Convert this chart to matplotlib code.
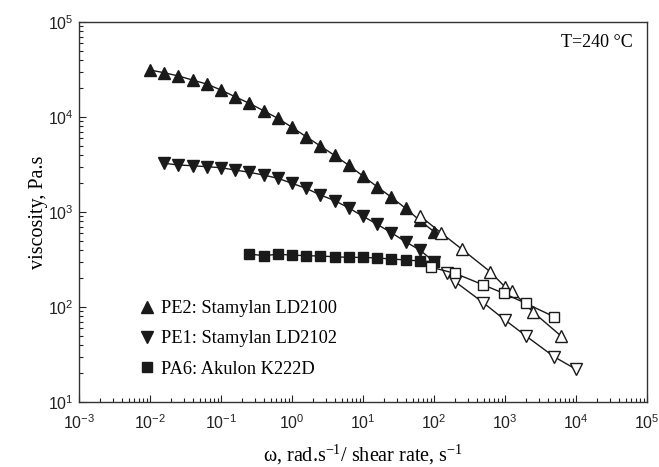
import math
import matplotlib
matplotlib.use("Agg")
import matplotlib.pyplot as plt
from matplotlib.lines import Line2D
from matplotlib.ticker import FixedLocator, FuncFormatter, NullFormatter

# ---- data ----
pe2_osc_x = [0.01, 0.0158, 0.0251, 0.0398, 0.0631, 0.1, 0.158, 0.251, 0.398, 0.631,
             1, 1.58, 2.51, 3.98, 6.31, 10, 15.8, 25.1, 39.8, 63.1, 100]
pe2_osc_y = [31260, 29240, 27040, 24490, 22230, 19230, 16330, 13930, 11640, 9680,
             7800, 6210, 4950, 3940, 3100, 2390, 1845, 1430, 1094, 815, 621]
pe2_cap_x = [63, 124, 248, 615, 990, 1255, 2455, 6080]
pe2_cap_y = [914, 608, 405, 236, 164, 147, 89.3, 49.9]

pe1_osc_x = [0.0158, 0.0251, 0.0398, 0.0631, 0.1, 0.158, 0.251, 0.398, 0.631,
             1, 1.58, 2.51, 3.98, 6.31, 10, 15.8, 25.1, 39.8, 63.1, 100]
pe1_osc_y = [3258, 3126, 3069, 2999, 2924, 2767, 2618, 2449, 2265,
             2004, 1774, 1510, 1321, 1102, 902, 743, 605, 486, 398, 300]
pe1_cap_x = [151, 198, 494, 1000, 1978, 4900, 10000]
pe1_cap_y = [226, 185, 111, 73, 49.5, 30, 22.1]

pa6_osc_x = [0.251, 0.398, 0.631, 1, 1.58, 2.51, 3.98, 6.31, 10, 15.8, 25.1, 39.8, 63.1, 100]
pa6_osc_y = [361, 347, 359, 352, 347, 344, 338, 333, 333, 328, 320, 313, 305, 300]
pa6_cap_x = [91, 198, 494, 968, 1978, 4900]
pa6_cap_y = [262, 226, 171, 139, 109, 79]

x_ticks = [1e-3, 1e-2, 1e-1, 1e0, 1e1, 1e2, 1e3, 1e4, 1e5]
y_ticks = [1e1, 1e2, 1e3, 1e4, 1e5]

labels = ["PE2: Stamylan LD2100", "PE1: Stamylan LD2102", "PA6: Akulon K222D"]
annotation = "T=240 \u00b0C"
xlabel = r"$\omega$, rad.s$^{\mathregular{-1}}$/ shear rate, s$^{\mathregular{-1}}$"
ylabel = "viscosity, Pa.s"

# ---- figure ----
plt.rcParams['mathtext.fontset'] = 'custom'
plt.rcParams['mathtext.rm'] = 'Liberation Serif'
plt.rcParams['mathtext.it'] = 'Liberation Serif:italic'
plt.rcParams['mathtext.sf'] = 'Liberation Sans'
plt.rcParams['mathtext.default'] = 'regular'

fig = plt.figure(figsize=(6.59, 4.67), dpi=100)
ax = fig.add_axes([79/659, 65/467, 568/659, 380/467])

lc = '#1a1a1a'
ms_t = 8.0
ms_s = 6.5
ax.plot(pe2_osc_x, pe2_osc_y, '-', color=lc, lw=1, marker='^', ms=ms_t, mfc=lc, mec=lc, zorder=3)
ax.plot(pe1_osc_x, pe1_osc_y, '-', color=lc, lw=1, marker='v', ms=ms_t, mfc=lc, mec=lc, zorder=3)
ax.plot(pa6_osc_x, pa6_osc_y, '-', color=lc, lw=1, marker='s', ms=ms_s, mfc=lc, mec=lc, zorder=3)
ax.plot(pe2_cap_x, pe2_cap_y, '-', color=lc, lw=1, marker='^', ms=ms_t, mfc='white', mec=lc, mew=1, zorder=4)
ax.plot(pe1_cap_x, pe1_cap_y, '-', color=lc, lw=1, marker='v', ms=ms_t, mfc='white', mec=lc, mew=1, zorder=4)
ax.plot(pa6_cap_x, pa6_cap_y, '-', color=lc, lw=1, marker='s', ms=ms_s, mfc='white', mec=lc, mew=1, zorder=4)

ax.set_xscale('log')
ax.set_yscale('log')
ax.set_xlim(1e-3, 1e5)
ax.set_ylim(1e1, 1e5)

def minor_positions(majors):
    out = []
    for m in majors[:-1]:
        for s in range(2, 10):
            out.append(m * s)
    return out

fmt = FuncFormatter(lambda v, p: r"$\mathsf{10^{%d}}$" % int(round(math.log10(v))))
ax.xaxis.set_major_locator(FixedLocator(x_ticks))
ax.yaxis.set_major_locator(FixedLocator(y_ticks))
ax.xaxis.set_major_formatter(fmt)
ax.yaxis.set_major_formatter(fmt)
ax.xaxis.set_minor_locator(FixedLocator(minor_positions(x_ticks)))
ax.yaxis.set_minor_locator(FixedLocator(minor_positions(y_ticks)))
ax.xaxis.set_minor_formatter(NullFormatter())
ax.yaxis.set_minor_formatter(NullFormatter())

ax.tick_params(which='both', direction='in', top=False, right=False, colors='#222222',
               labelsize=11.5, width=0.8)
ax.tick_params(which='major', length=5)
ax.tick_params(which='minor', length=3)
ax.tick_params(axis='x', pad=8)
ax.tick_params(axis='y', pad=4)

for sp in ax.spines.values():
    sp.set_color('#333333')
    sp.set_linewidth(1.0)

ax.set_xlabel(xlabel, fontfamily='Liberation Serif', fontsize=14.5, labelpad=8)
ax.set_ylabel(ylabel, fontfamily='Liberation Serif', fontsize=14.5, labelpad=0)

ax.text(0.975, 0.945, annotation, transform=ax.transAxes, ha='right', va='center',
        fontfamily='Liberation Serif', fontsize=13)

handles = [
    Line2D([], [], ls='none', marker='^', ms=ms_t, mfc=lc, mec=lc),
    Line2D([], [], ls='none', marker='v', ms=ms_t, mfc=lc, mec=lc),
    Line2D([], [], ls='none', marker='s', ms=ms_s, mfc=lc, mec=lc),
]
ax.legend(handles, labels, loc='lower left', bbox_to_anchor=(0.09, 0.04), frameon=False,
          prop={'family': 'Liberation Serif', 'size': 13.2}, handlelength=0.8,
          handletextpad=0.4, labelspacing=0.72, borderpad=0)

fig.savefig('out.png', dpi=100)
